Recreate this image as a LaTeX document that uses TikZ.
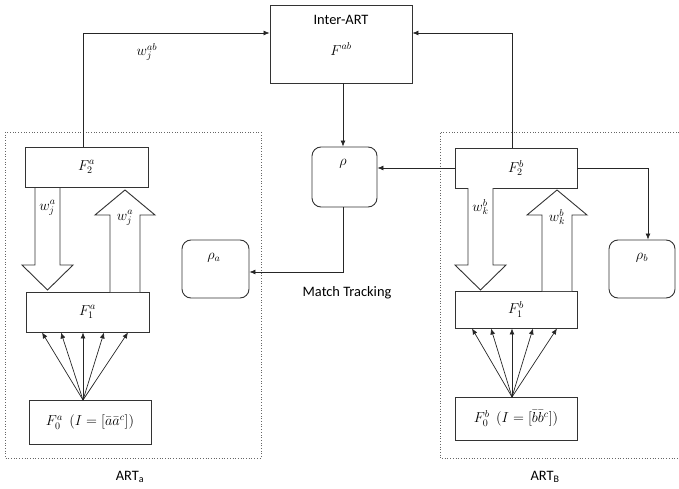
\documentclass[tikz,border=0pt]{standalone}
\usepackage{fontspec}
\setmainfont{Carlito}
\usetikzlibrary{arrows.meta,calc}
\begin{document}
\begin{tikzpicture}[x=1pt,y=-1pt,
  box/.style={draw=black!80,line width=0.9pt,inner sep=0pt},
  rbox/.style={draw=black!80,line width=0.9pt,rounded corners=9pt,inner sep=0pt},
  conn/.style={draw=black!85,line width=0.7pt,-{Latex[length=6pt,width=5pt]}},
  hollow/.style={draw=black!80,line width=0.9pt,fill=white},
  frame/.style={draw=black!60,dotted,line width=0.7pt},
  lbl/.style={inner sep=0pt,font=\fontsize{14.4}{17}\selectfont}]
\useasboundingbox (0,0) rectangle (679,489);
% frames
\draw[frame] (5,132) rectangle (261,458);
\draw[frame] (679,132) -- (440,132) -- (440,458) -- (679,458);
% boxes
\node[box,minimum width=142pt,minimum height=78pt] (inter) at (341,44) {};
\node[lbl] at (341,20) {Inter-ART};
\node[lbl] at (341,49) {$F^{ab}$};
\node[rbox,minimum width=65pt,minimum height=60pt] (rho) at (344.5,177) {};
\node[lbl] at (343,164) {$\rho$};
\node[rbox,minimum width=67pt,minimum height=58pt] (rhoa) at (215.5,269) {};
\node[lbl] at (214,258) {$\rho_a$};
\node[rbox,minimum width=66pt,minimum height=58pt] (rhob) at (642,269) {};
\node[lbl] at (642,258) {$\rho_b$};
\node[box,lbl,minimum width=123pt,minimum height=40pt] (F2a) at (86.5,167) {$F_2^a$};
\node[box,lbl,minimum width=123pt,minimum height=40pt] (F1a) at (87.5,312) {$F_1^a$};
\node[box,lbl,minimum width=122pt,minimum height=44pt] (F0a) at (90,422) {$F_0^a\ \ (I=[\bar a\bar a^c])$};
\node[box,lbl,minimum width=122pt,minimum height=40pt] (F2b) at (516,168) {$F_2^b$};
\node[box,lbl,minimum width=122pt,minimum height=37pt] (F1b) at (516,309.5) {$F_1^b$};
\node[box,lbl,minimum width=122pt,minimum height=43pt] (F0b) at (516,418.5) {$F_0^b\ \ (I=\bigl[\bar b\bar b^c\bigr])$};
% hollow arrows
\draw[hollow] (35,188)--(35,265)--(22,265)--(47.5,290)--(73,265)--(60,265)--(60,188);
\draw[hollow] (110,292)--(110,215)--(95,215)--(125,190)--(155,215)--(140,215)--(140,292);
\draw[hollow] (468,188)--(468,265)--(455,265)--(480.5,290)--(506,265)--(493,265)--(493,188);
\draw[hollow] (542,291)--(542,215)--(527,215)--(557,190)--(587,215)--(572,215)--(572,291);
\node[lbl] at (47.5,208) {$w_j^a$};
\node[lbl] at (125,218) {$w_j^a$};
\node[lbl] at (480.5,207) {$w_k^b$};
\node[lbl] at (557,217) {$w_k^b$};
% connectors
\draw[conn] ([xshift=-3pt]F2a.north) |- ([yshift=11pt]inter.west);
\draw[conn] ([xshift=-4pt]F2b.north) |- ([yshift=11pt]inter.east);
\draw[conn] ([xshift=-1.5pt]rho.north |- inter.south) -- ([xshift=-1.5pt]rho.north);
\draw[conn] (F2b.west) -- (F2b.west -| rho.east);
\draw[conn] ([xshift=-1.5pt]rho.south) |- ([yshift=-3pt]rhoa.east);
\draw[conn] (F2b.east) -| ([xshift=6pt]rhob.north);
\node[lbl] at (347,293) {Match Tracking};
\node[lbl] at (147,52) {$w_j^{ab}$};
% fan a
\coordinate (a0) at (83,400);
\foreach \dx in {-41,-22,0,21,45}
  \draw[conn] (a0) -- ([xshift=\dx pt]a0 |- F1a.south);
% fan b
\coordinate (b0) at (512,397);
\foreach \dx in {-40,-21,0,21,45}
  \draw[conn] (b0) -- ([xshift=\dx pt]b0 |- F1b.south);
\node[lbl] at (130,477) {ART\textsubscript{a}};
\node[lbl] at (545,477) {ART\textsubscript{B}};
\end{tikzpicture}
\end{document}
